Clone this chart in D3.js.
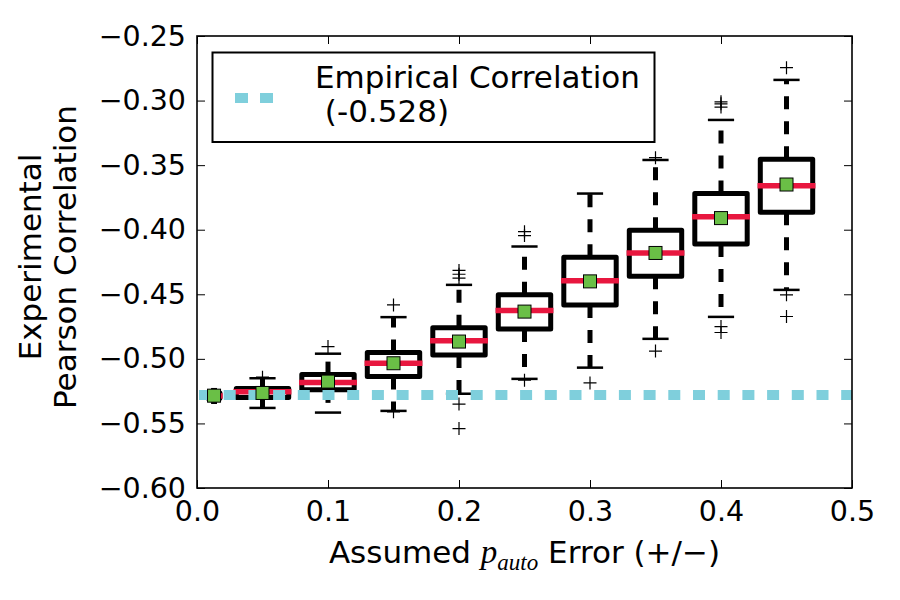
<!DOCTYPE html>
<html>
<head>
<meta charset="utf-8">
<script src="https://cdn.jsdelivr.net/npm/d3@7"></script>
<style>
  body { margin: 0; background: #fff; }
  svg { display: block; font-family: "DejaVu Sans", sans-serif; }
</style>
</head>
<body>
<div id="chart"></div>
<script>

// Assumed p_auto error (box positions)
const positions = [0.013, 0.05, 0.1, 0.15, 0.2, 0.25, 0.3, 0.35, 0.4, 0.45];

// box statistics
const whiskerLow  = [-0.534, -0.538, -0.5416, -0.5403, -0.527, -0.5155, -0.5068, -0.4845, -0.4675, -0.4466];
const q1          = [-0.5305, -0.530, -0.524, -0.5136, -0.497, -0.4768, -0.4582, -0.436, -0.411, -0.3865];
const medians     = [-0.5287, -0.5255, -0.5184, -0.5034, -0.486, -0.4626, -0.4396, -0.418, -0.390, -0.366];
const q3          = [-0.5265, -0.523, -0.5122, -0.495, -0.476, -0.4504, -0.4214, -0.4004, -0.372, -0.3454];
const whiskerHigh = [-0.5235, -0.515, -0.496, -0.4677, -0.4427, -0.413, -0.372, -0.346, -0.315, -0.284];
const means       = [-0.5285, -0.5264, -0.5176, -0.5034, -0.4866, -0.4634, -0.440, -0.418, -0.391, -0.365];
const fliers = [
  [],
  [-0.5142],
  [-0.4905],
  [-0.4582, -0.541],
  [-0.4315, -0.4345, -0.4375, -0.535, -0.554],
  [-0.4015, -0.4045, -0.5165],
  [-0.5186],
  [-0.3442, -0.494],
  [-0.301, -0.3025, -0.305, -0.475, -0.4796],
  [-0.2745, -0.4504, -0.4672]
];

const empirical = -0.528;
const legendLines = ["Empirical Correlation", " (-0.528)"];

const xTicks = [0, 0.1, 0.2, 0.3, 0.4, 0.5];
const yTicks = [-0.60, -0.55, -0.50, -0.45, -0.40, -0.35, -0.30, -0.25];

const width = 900;
const height = 600;
const margin = {top: 36, right: 48, bottom: 112, left: 197};

const red = "#e8173f";
const green = "#6abf46";
const cyan = "#7fcfdc";

const svg = d3.select("#chart").append("svg")
  .attr("width", width)
  .attr("height", height);

const x = d3.scaleLinear()
  .domain([0, 0.5])
  .range([margin.left, width - margin.right]);

const y = d3.scaleLinear()
  .domain([-0.60, -0.25])
  .range([height - margin.bottom, margin.top]);

// first box is squeezed against the axis, the rest are 0.04 wide
const boxWidth = p => p < 0.03 ? 0.009 : 0.04;

const boxes = positions.map((p, i) => ({
  p, w: boxWidth(p),
  lo: whiskerLow[i], q1: q1[i], med: medians[i], q3: q3[i], hi: whiskerHigh[i],
  mean: means[i], fliers: fliers[i]
}));

svg.append("defs").append("clipPath").attr("id", "plot-clip")
  .append("rect")
  .attr("x", margin.left).attr("y", margin.top)
  .attr("width", width - margin.left - margin.right)
  .attr("height", height - margin.top - margin.bottom);

const plot = svg.append("g").attr("clip-path", "url(#plot-clip)");

// whiskers (dashed)
plot.append("g")
  .attr("stroke", "#000")
  .attr("stroke-width", 5)
  .attr("stroke-dasharray", "13,12")
  .selectAll("line")
  .data(boxes.flatMap(b => [
    {p: b.p, from: b.q3, to: b.hi},
    {p: b.p, from: b.q1, to: b.lo}
  ]))
  .join("line")
  .attr("x1", d => x(d.p)).attr("x2", d => x(d.p))
  .attr("y1", d => y(d.from)).attr("y2", d => y(d.to));

// caps
plot.append("g")
  .attr("stroke", "#000")
  .attr("stroke-width", 2.5)
  .selectAll("line")
  .data(boxes.flatMap(b => [{b, v: b.hi}, {b, v: b.lo}]))
  .join("line")
  .attr("x1", d => x(d.b.p - d.b.w / 4)).attr("x2", d => x(d.b.p + d.b.w / 4))
  .attr("y1", d => y(d.v)).attr("y2", d => y(d.v));

// boxes
plot.append("g")
  .selectAll("rect")
  .data(boxes)
  .join("rect")
  .attr("x", d => x(d.p - d.w / 2))
  .attr("width", d => x(d.p + d.w / 2) - x(d.p - d.w / 2))
  .attr("y", d => y(d.q3))
  .attr("height", d => y(d.q1) - y(d.q3))
  .attr("fill", "#fff")
  .attr("stroke", "#000")
  .attr("stroke-width", 5)
  .attr("stroke-linejoin", "round");

// medians
plot.append("g")
  .attr("stroke", red)
  .attr("stroke-width", 5.5)
  .attr("stroke-linecap", "square")
  .selectAll("line")
  .data(boxes)
  .join("line")
  .attr("x1", d => x(d.p - d.w / 2)).attr("x2", d => x(d.p + d.w / 2))
  .attr("y1", d => y(d.med)).attr("y2", d => y(d.med));

// empirical correlation line
plot.append("line")
  .attr("x1", x(0)).attr("x2", x(0.5))
  .attr("y1", y(empirical)).attr("y2", y(empirical))
  .attr("stroke", cyan)
  .attr("stroke-width", 10)
  .attr("stroke-dasharray", "12,12.7")
  .attr("stroke-dashoffset", -2);

// fliers
const fl = 6.5;
plot.append("g")
  .attr("stroke", "#000")
  .attr("stroke-width", 1.2)
  .selectAll("path")
  .data(boxes.flatMap(b => b.fliers.map(v => ({p: b.p, v}))))
  .join("path")
  .attr("d", d => {
    const cx = x(d.p), cy = y(d.v);
    return `M${cx - fl},${cy}H${cx + fl}M${cx},${cy - fl}V${cy + fl}`;
  });

// means
const ms = 13;
plot.append("g")
  .selectAll("rect")
  .data(boxes)
  .join("rect")
  .attr("x", d => x(d.p) - ms / 2)
  .attr("y", d => y(d.mean) - ms / 2)
  .attr("width", ms).attr("height", ms)
  .attr("fill", green)
  .attr("stroke", "#000")
  .attr("stroke-width", 1);

// axes: ticks on all four sides pointing inward
const tickLen = 8;
const fontTicks = 28.5;

const axisStyle = g => {
  g.select(".domain").remove();
  g.selectAll(".tick line").attr("stroke", "#000").attr("stroke-width", 1);
  g.selectAll(".tick text").attr("fill", "#000")
    .style("font-size", fontTicks + "px")
    .style("font-family", "DejaVu Sans");
};

svg.append("g")
  .attr("transform", `translate(0,${y(-0.60)})`)
  .call(d3.axisBottom(x).tickValues(xTicks).tickFormat(d3.format(".1f"))
    .tickSizeInner(-tickLen).tickSizeOuter(0).tickPadding(12))
  .call(axisStyle)
  .call(g => g.selectAll(".tick text").attr("dy", null).attr("y", 33));

svg.append("g")
  .attr("transform", `translate(0,${y(-0.25)})`)
  .call(d3.axisTop(x).tickValues(xTicks).tickFormat("")
    .tickSizeInner(-tickLen).tickSizeOuter(0))
  .call(axisStyle);

svg.append("g")
  .attr("transform", `translate(${x(0)},0)`)
  .call(d3.axisLeft(y).tickValues(yTicks).tickFormat(d3.format(".2f"))
    .tickSizeInner(-tickLen).tickSizeOuter(0).tickPadding(11))
  .call(axisStyle);

svg.append("g")
  .attr("transform", `translate(${x(0.5)},0)`)
  .call(d3.axisRight(y).tickValues(yTicks).tickFormat("")
    .tickSizeInner(-tickLen).tickSizeOuter(0))
  .call(axisStyle);

// frame
svg.append("rect")
  .attr("x", x(0)).attr("y", y(-0.25))
  .attr("width", x(0.5) - x(0))
  .attr("height", y(-0.60) - y(-0.25))
  .attr("fill", "none")
  .attr("stroke", "#000")
  .attr("stroke-width", 1.6);

// legend
const legend = svg.append("g");
legend.append("rect")
  .attr("x", 212.5).attr("y", 52.5)
  .attr("width", 442).attr("height", 89.5)
  .attr("fill", "#fff")
  .attr("stroke", "#000")
  .attr("stroke-width", 2);
legend.append("line")
  .attr("x1", 235).attr("x2", 273)
  .attr("y1", 98).attr("y2", 98)
  .attr("stroke", cyan)
  .attr("stroke-width", 10)
  .attr("stroke-dasharray", "13,12");
legend.append("text")
  .attr("x", 315)
  .attr("y", 88)
  .style("font-size", "31px")
  .style("white-space", "pre")
  .selectAll("tspan")
  .data(legendLines)
  .join("tspan")
  .attr("x", 315)
  .attr("dy", (d, i) => i ? 34 : 0)
  .text(d => d);

// axis labels
const xLabel = svg.append("text")
  .attr("x", (x(0) + x(0.5)) / 2)
  .attr("y", 563)
  .attr("text-anchor", "middle")
  .style("font-size", "31px");
xLabel.append("tspan").text("Assumed ");
xLabel.append("tspan")
  .style("font-family", "Liberation Serif")
  .style("font-style", "italic")
  .style("font-size", "33px")
  .text("p");
xLabel.append("tspan")
  .attr("dy", 7)
  .style("font-family", "Liberation Serif")
  .style("font-style", "italic")
  .style("font-size", "23px")
  .text("auto");
xLabel.append("tspan")
  .attr("dy", -7)
  .style("white-space", "pre")
  .text(" Error (+/\u2212)");

const yLabel = svg.append("text")
  .attr("transform", `translate(0,257) rotate(-90)`)
  .attr("text-anchor", "middle")
  .style("font-size", "31px");
yLabel.append("tspan").attr("x", 0).attr("y", 41).text("Experimental");
yLabel.append("tspan").attr("x", 0).attr("y", 76).text("Pearson Correlation");

</script>
</body>
</html>
